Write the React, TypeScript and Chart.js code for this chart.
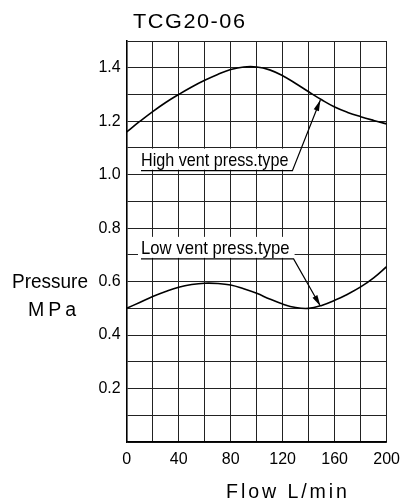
import React, { useEffect, useRef } from "react";
import { Chart, registerables } from "chart.js";

Chart.register(...registerables);

// ---- data ----
const flow = [0, 10, 20, 30, 40, 50, 60, 70, 80, 90, 100, 110, 120, 130, 140, 150, 160, 170, 180, 190, 200];
const highVent = [1.16, 1.199, 1.236, 1.27, 1.3, 1.328, 1.353, 1.375, 1.393, 1.403, 1.403, 1.392, 1.37, 1.341, 1.31, 1.28, 1.253, 1.233, 1.217, 1.203, 1.19];
const lowVent = [0.5, 0.522, 0.544, 0.563, 0.579, 0.589, 0.594, 0.593, 0.587, 0.573, 0.556, 0.535, 0.516, 0.503, 0.5, 0.511, 0.53, 0.553, 0.58, 0.614, 0.656];
const xTickLabels = [0, 40, 80, 120, 160, 200];
const yTickLabels = [0.2, 0.4, 0.6, 0.8, 1.0, 1.2, 1.4];
const calloutLabels = ["High vent press.type", "Low vent press.type"];
const calloutFrom = [11, 11];
const calloutTo = [127.5, 128.4];
const calloutAt = [1.015, 0.685];
const calloutTipFlow = [149, 149];
const calloutTipPressure = [1.279, 0.509];

const titleText = "TCG20-06";
const yTitle1 = "Pressure";
const yTitle2 = "MPa";
const xTitle = "Flow L/min";

const NARROW = "'Liberation Sans Narrow', 'Arial Narrow', 'Liberation Sans', Arial, sans-serif";
const REGULAR = "'Liberation Sans', Arial, sans-serif";

function fitText(ctx: CanvasRenderingContext2D, text: string, left: number, baseline: number, size: number, width: number, spacing = 0, family = NARROW) {
  ctx.save();
  ctx.font = `${size}px ${family}`;
  (ctx as any).letterSpacing = `${spacing}px`;
  ctx.textAlign = "left";
  ctx.textBaseline = "alphabetic";
  ctx.fillStyle = "#000";
  const w = ctx.measureText(text).width - spacing;
  ctx.translate(left, baseline);
  ctx.scale(width / w, 1);
  ctx.fillText(text, 0, 0);
  ctx.restore();
}

const overlay = {
  id: "overlay",
  afterDraw(chart: any) {
    const ctx: CanvasRenderingContext2D = chart.ctx;
    const xs = chart.scales.x;
    const ys = chart.scales.y;
    ctx.save();
    calloutLabels.forEach((label, i) => {
      const x0 = xs.getPixelForValue(calloutFrom[i]);
      const x1 = xs.getPixelForValue(calloutTo[i]);
      const yl = ys.getPixelForValue(calloutAt[i]);
      const tx = xs.getPixelForValue(calloutTipFlow[i]);
      const ty = ys.getPixelForValue(calloutTipPressure[i]);
      ctx.fillStyle = "#fff";
      ctx.fillRect(x0 - 3, yl - 22, x1 - x0 + 4, 21);
      fitText(ctx, label, x0, yl - 5, 19, x1 - x0 - 4);
      ctx.strokeStyle = "#000";
      ctx.lineWidth = 1.2;
      ctx.beginPath();
      ctx.moveTo(x0, yl);
      ctx.lineTo(x1, yl);
      ctx.lineTo(tx, ty);
      ctx.stroke();
      const ang = Math.atan2(ty - yl, tx - x1);
      const L = 11, W = 2.8;
      const c = Math.cos(ang), s = Math.sin(ang);
      ctx.fillStyle = "#000";
      ctx.beginPath();
      ctx.moveTo(tx, ty);
      ctx.lineTo(tx - L * c + W * s, ty - L * s - W * c);
      ctx.lineTo(tx - L * c - W * s, ty - L * s + W * c);
      ctx.closePath();
      ctx.fill();
    });
    fitText(ctx, titleText, 133, 28, 21, 112, 1.5, REGULAR);
    fitText(ctx, yTitle1, 12, 288, 20, 76);
    fitText(ctx, yTitle2, 28, 316, 20, 48, 4, REGULAR);
    fitText(ctx, xTitle, 226, 498, 20, 121, 3);
    ctx.restore();
  },
};

export default function App() {
  const ref = useRef<HTMLCanvasElement>(null);
  useEffect(() => {
    document.body.style.margin = "0";
    const chart = new Chart(ref.current!, {
      type: "line",
      data: {
        datasets: [
          {
            label: calloutLabels[0],
            data: flow.map((f, i) => ({ x: f, y: highVent[i] })),
            borderColor: "#000",
            borderWidth: 1.6,
            pointRadius: 0,
            tension: 0.4,
          },
          {
            label: calloutLabels[1],
            data: flow.map((f, i) => ({ x: f, y: lowVent[i] })),
            borderColor: "#000",
            borderWidth: 1.6,
            pointRadius: 0,
            tension: 0.4,
          },
        ],
      },
      options: {
        animation: false,
        responsive: false,
        layout: { padding: { top: 41, right: 14, left: 0, bottom: 0 } },
        plugins: { legend: { display: false }, tooltip: { enabled: false }, title: { display: false } },
        scales: {
          x: {
            type: "linear",
            min: 0,
            max: 200,
            ticks: {
              stepSize: 20,
              autoSkip: false,
              maxRotation: 0,
              padding: 8,
              color: "#000",
              font: { size: 16, family: NARROW },
              callback: (v: any) => (xTickLabels.includes(Math.round(v)) ? String(Math.round(v)) : ""),
            },
            grid: { color: "#222", lineWidth: 1, drawTicks: false },
            border: { color: "#000", width: 1.6 },
            afterFit: (s: any) => {
              s.height = 62;
            },
          },
          y: {
            type: "linear",
            min: 0,
            max: 1.5,
            ticks: {
              stepSize: 0.1,
              autoSkip: false,
              padding: 6,
              color: "#000",
              font: { size: 16, family: NARROW },
              callback: (v: any) => {
                const r = Math.round(v * 10) / 10;
                return yTickLabels.some((t) => Math.abs(t - r) < 1e-6) ? r.toFixed(1) : "";
              },
            },
            grid: { color: "#222", lineWidth: 1, drawTicks: false },
            border: { color: "#000", width: 1.6 },
            afterFit: (s: any) => {
              s.width = 126.7;
            },
          },
        },
      } as any,
      plugins: [overlay],
    });
    return () => chart.destroy();
  }, []);
  return (
    <div style={{ position: "fixed", left: 0, top: 0, width: 408, height: 504, background: "#fff" }}>
      <canvas ref={ref} width={408} height={504} style={{ display: "block" }} />
    </div>
  );
}
